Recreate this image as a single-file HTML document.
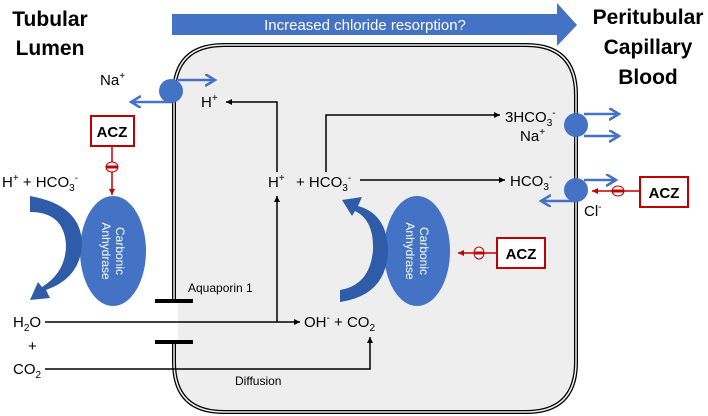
<!DOCTYPE html>
<html><head><meta charset="utf-8"><style>
body{margin:0;background:#fff}
svg{display:block;font-family:"Liberation Sans",sans-serif}
</style></head><body>
<svg width="708" height="416" viewBox="0 0 708 416">
<defs>
<marker id="ab" markerWidth="8" markerHeight="8" refX="6" refY="3" orient="auto" markerUnits="userSpaceOnUse"><path d="M0,0 L6,3 L0,6 Z" fill="#000"/></marker>
<marker id="ar" markerWidth="8" markerHeight="8" refX="6" refY="3" orient="auto" markerUnits="userSpaceOnUse"><path d="M0,0 L6,3 L0,6 Z" fill="#c00000"/></marker>
<marker id="abl" markerWidth="14" markerHeight="14" refX="10" refY="6" orient="auto" markerUnits="userSpaceOnUse"><path d="M0,0 L10,6 L0,12" fill="none" stroke="#4472c4" stroke-width="2.5"/></marker>
</defs>
<!-- cell -->
<path d="M174,300 L174,95 Q174,45 224,45 L526,45 Q576,45 576,95 L576,362 Q576,412 526,412 L224,412 Q174,412 174,362 L174,342" fill="#eeeeee" stroke="#000" stroke-width="4"/>
<path d="M174,300 L174,95 Q174,45 224,45 L526,45 Q576,45 576,95 L576,362 Q576,412 526,412 L224,412 Q174,412 174,362 L174,342" fill="none" stroke="#eeeeee" stroke-width="1.5"/>
<rect x="160" y="302" width="20" height="40" fill="#fff"/>
<rect x="178" y="302" width="10" height="40" fill="#eeeeee"/>
<!-- top arrow -->
<path d="M172,14 L557,14 L557,3 L577,25 L557,46 L557,35 L172,35 Z" fill="#4472c4"/>
<text x="365" y="30" font-size="15" fill="#fff" text-anchor="middle">Increased chloride resorption?</text>
<text x="50" y="26" font-size="21" font-weight="bold" text-anchor="middle">Tubular</text>
<text x="50" y="55" font-size="21" font-weight="bold" text-anchor="middle">Lumen</text>
<text x="648" y="24" font-size="21" font-weight="bold" text-anchor="middle">Peritubular</text>
<text x="648" y="54" font-size="21" font-weight="bold" text-anchor="middle">Capillary</text>
<text x="648" y="84" font-size="21" font-weight="bold" text-anchor="middle">Blood</text>
<!-- Na transporter -->
<circle cx="171" cy="91" r="12" fill="#4472c4"/>
<line x1="178" y1="80" x2="215" y2="80" stroke="#4472c4" stroke-width="2.5" marker-end="url(#abl)"/>
<line x1="172" y1="102" x2="131" y2="102" stroke="#4472c4" stroke-width="2.5" marker-end="url(#abl)"/>
<g font-size="15">
<text x="100" y="85">Na<tspan font-size="10" dy="-6">+</tspan></text>
<text x="201" y="107">H<tspan font-size="10" dy="-6">+</tspan></text>
</g>
<!-- black arrows -->
<polyline points="277,172 277,102 226,102" fill="none" stroke="#000" stroke-width="1.5" marker-end="url(#ab)"/>
<line x1="277" y1="322" x2="277" y2="196" stroke="#000" stroke-width="1.5" marker-end="url(#ab)"/>
<polyline points="326,172 326,115 500,115" fill="none" stroke="#000" stroke-width="1.5" marker-end="url(#ab)"/>
<line x1="360" y1="180" x2="505" y2="180" stroke="#000" stroke-width="1.5" marker-end="url(#ab)"/>
<line x1="45" y1="322" x2="300" y2="322" stroke="#000" stroke-width="1.5" marker-end="url(#ab)"/>
<polyline points="45,369 370,369 370,337" fill="none" stroke="#000" stroke-width="1.5" marker-end="url(#ab)"/>
<g font-size="15">
<text x="268" y="187">H<tspan font-size="10" dy="-6">+</tspan></text>
<text x="296" y="187">+ HCO<tspan font-size="10" dy="4">3</tspan><tspan font-size="10" dy="-10">-</tspan></text>
<text x="505" y="122">3HCO<tspan font-size="10" dy="4">3</tspan><tspan font-size="10" dy="-10">-</tspan></text>
<text x="520" y="141">Na<tspan font-size="10" dy="-6">+</tspan></text>
<text x="510" y="186">HCO<tspan font-size="10" dy="4">3</tspan><tspan font-size="10" dy="-10">-</tspan></text>
<text x="2" y="187">H<tspan font-size="10" dy="-6">+</tspan><tspan dy="6"> + HCO</tspan><tspan font-size="10" dy="4">3</tspan><tspan font-size="10" dy="-10">-</tspan></text>
<text x="13" y="327">H<tspan font-size="10" dy="4">2</tspan><tspan dy="-4">O</tspan></text>
<text x="28" y="351">+</text>
<text x="13" y="374">CO<tspan font-size="10" dy="4">2</tspan></text>
<text x="304" y="327">OH<tspan font-size="10" dy="-6">-</tspan><tspan dy="6"> + CO</tspan><tspan font-size="10" dy="4">2</tspan></text>
</g>
<text x="188" y="292" font-size="12">Aquaporin 1</text>
<text x="235" y="385" font-size="12">Diffusion</text>
<rect x="155" y="299" width="38" height="4" fill="#000"/>
<rect x="155" y="340" width="38" height="4" fill="#000"/>
<!-- right transporters -->
<circle cx="576" cy="125" r="12" fill="#4472c4"/>
<line x1="584" y1="114" x2="619" y2="114" stroke="#4472c4" stroke-width="2.5" marker-end="url(#abl)"/>
<line x1="584" y1="136" x2="619" y2="136" stroke="#4472c4" stroke-width="2.5" marker-end="url(#abl)"/>
<circle cx="576" cy="190" r="12" fill="#4472c4"/>
<line x1="584" y1="180" x2="616" y2="180" stroke="#4472c4" stroke-width="2.5" marker-end="url(#abl)"/>
<line x1="576" y1="201" x2="541" y2="201" stroke="#4472c4" stroke-width="2.5" marker-end="url(#abl)"/>
<text x="584" y="216" font-size="15">Cl<tspan font-size="10" dy="-6">-</tspan></text>
<!-- ACZ -->
<rect x="640" y="177" width="48" height="30" fill="#fff" stroke="#c00000" stroke-width="2"/>
<text x="664" y="198" font-size="15" font-weight="bold" text-anchor="middle">ACZ</text>
<line x1="640" y1="191" x2="592" y2="191" stroke="#c00000" stroke-width="1.5" marker-end="url(#ar)"/>
<ellipse cx="618" cy="191" rx="6" ry="5" fill="#fff" stroke="#c00000"/><rect x="612" y="189.5" width="12" height="3" fill="#c00000"/>
<rect x="497" y="238" width="48" height="30" fill="#fff" stroke="#c00000" stroke-width="2"/>
<text x="521" y="259" font-size="15" font-weight="bold" text-anchor="middle">ACZ</text>
<line x1="497" y1="253" x2="458" y2="253" stroke="#c00000" stroke-width="1.5" marker-end="url(#ar)"/>
<ellipse cx="479" cy="253" rx="5" ry="6" fill="#fff" stroke="#c00000"/><rect x="474" y="251.5" width="10" height="3" fill="#c00000"/>
<rect x="91" y="116" width="43" height="30" fill="#fff" stroke="#c00000" stroke-width="2"/>
<text x="112" y="137" font-size="15" font-weight="bold" text-anchor="middle">ACZ</text>
<line x1="112" y1="146" x2="112" y2="195" stroke="#c00000" stroke-width="1.5" marker-end="url(#ar)"/>
<ellipse cx="112" cy="167" rx="6" ry="5" fill="#fff" stroke="#c00000"/><rect x="106" y="165.5" width="12" height="3" fill="#c00000"/>
<!-- carbonic anhydrase -->
<ellipse cx="113" cy="251" rx="33" ry="55" fill="#4472c4"/>
<text transform="translate(113,251) rotate(90)" font-size="12" fill="#fff" text-anchor="middle"><tspan x="0" y="-3">Carbonic</tspan><tspan x="0" y="11">Anhydrase</tspan></text>
<ellipse cx="417" cy="251" rx="33" ry="55" fill="#4472c4"/>
<text transform="translate(417,251) rotate(90)" font-size="12" fill="#fff" text-anchor="middle"><tspan x="0" y="-3">Carbonic</tspan><tspan x="0" y="11">Anhydrase</tspan></text>
<!-- curved arrows -->
<path d="M30,196 Q82,205 82,245 Q80,278 46,290 L50,298 L30,300 L38,282 L42,287 Q66,272 66,245 Q64,212 30,212 Z" fill="#2f5ca8"/>
<path d="M340,302 Q387,295 388,250 Q387,214 358,206 L362,197 L342,200 L352,216 L355,211 Q374,220 373,250 Q370,285 340,290 Z" fill="#2f5ca8"/>
</svg>
</body></html>
